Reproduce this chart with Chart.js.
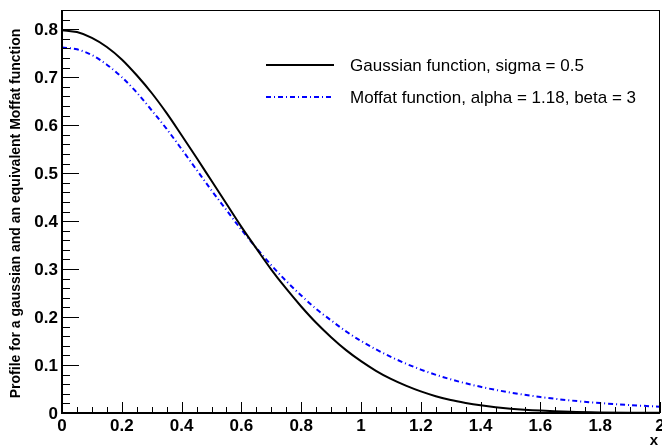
<!DOCTYPE html>
<html>
<head>
<meta charset="utf-8">
<script src="https://cdn.jsdelivr.net/npm/chart.js@4.4.1/dist/chart.umd.min.js"></script>
<style>
  html, body { margin: 0; padding: 0; background: #fff; }
  #wrap { width: 662px; height: 448px; }
</style>
</head>
<body>
<div id="wrap"><canvas id="profile"></canvas></div>
<script>
// values
const gaussX = [0, 0.05, 0.1, 0.15, 0.2, 0.25, 0.3, 0.35, 0.4, 0.45, 0.5, 0.55, 0.6, 0.65, 0.7, 0.75, 0.8, 0.85, 0.9, 0.95,
    1.0, 1.05, 1.1, 1.15, 1.2, 1.25, 1.3, 1.35, 1.4, 1.45, 1.5, 1.6, 1.7, 1.8, 1.9, 2.0];
const gaussY = [0.798, 0.794, 0.782, 0.763, 0.737, 0.704, 0.667, 0.625, 0.579, 0.532, 0.484, 0.436, 0.388, 0.343, 0.299, 0.259, 0.222, 0.188, 0.158, 0.131,
    0.108, 0.088, 0.071, 0.057, 0.045, 0.035, 0.027, 0.021, 0.016, 0.012, 0.009, 0.005, 0.0025, 0.0012, 0.0006, 0.0003];

const moffatX = [0, 0.05, 0.1, 0.15, 0.2, 0.25, 0.3, 0.35, 0.4, 0.45, 0.5, 0.55, 0.6, 0.65, 0.7, 0.75, 0.8, 0.85, 0.9, 0.95,
    1.0, 1.1, 1.2, 1.3, 1.4, 1.5, 1.6, 1.7, 1.8, 1.9, 2.0];
const moffatY = [0.762, 0.758, 0.746, 0.726, 0.700, 0.668, 0.631, 0.592, 0.550, 0.507, 0.464, 0.423, 0.382, 0.344, 0.308, 0.275, 0.245, 0.217, 0.193, 0.170,
    0.150, 0.117, 0.0905, 0.0702, 0.0546, 0.0426, 0.0333, 0.0262, 0.0207, 0.0165, 0.0131];

const xTickLabels = ['0', '0.2', '0.4', '0.6', '0.8', '1', '1.2', '1.4', '1.6', '1.8', '2'];
const yTickLabels = ['0', '0.1', '0.2', '0.3', '0.4', '0.5', '0.6', '0.7', '0.8'];

const legendLabels = ['Gaussian function, sigma = 0.5', 'Moffat function, alpha = 1.18, beta = 3'];
const yTitle = 'Profile for a gaussian and an equivalent Moffat function';
const xTitle = 'x';

const FONT = '"Liberation Sans", Arial, Helvetica, sans-serif';
const MOFFAT_DASH = [5, 3, 1, 3];

// ROOT-like frame, inward ticks, labels and legend
const rootFrame = {
    id: 'rootFrame',
    afterDraw(chart) {
        const ctx = chart.ctx;
        const area = chart.chartArea;
        const xs = chart.scales.x;
        const ys = chart.scales.y;
        ctx.save();

        // frame
        ctx.strokeStyle = '#000';
        ctx.lineWidth = 1;
        ctx.strokeRect(area.left + 0.5, area.top + 0.5, area.right - area.left - 1, area.bottom - area.top);
        ctx.lineWidth = 2;
        ctx.beginPath();
        ctx.moveTo(area.left, area.top);
        ctx.lineTo(area.left, area.bottom);
        ctx.lineTo(area.right, area.bottom);
        ctx.stroke();

        // y ticks
        ctx.lineWidth = 1;
        for (let i = 0; i <= 42; i++) {
            const v = i * 0.02;
            if (v > ys.max + 1e-9) break;
            const py = Math.round(ys.getPixelForValue(v)) + 0.5;
            const len = i % 5 === 0 ? 17 : 8;
            ctx.beginPath();
            ctx.moveTo(area.left, py);
            ctx.lineTo(area.left + len, py);
            ctx.stroke();
        }
        // x ticks
        for (let i = 0; i <= 40; i++) {
            const v = i * 0.05;
            const px = Math.round(xs.getPixelForValue(v)) + 0.5;
            const len = i % 4 === 0 ? 11 : 6;
            ctx.beginPath();
            ctx.moveTo(px, area.bottom);
            ctx.lineTo(px, area.bottom - len);
            ctx.stroke();
        }

        // tick labels
        ctx.fillStyle = '#000';
        ctx.font = 'bold 17px ' + FONT;
        ctx.textAlign = 'right';
        ctx.textBaseline = 'middle';
        yTickLabels.forEach(t => {
            ctx.fillText(t, area.left - 4, ys.getPixelForValue(parseFloat(t)) + 1);
        });
        ctx.textAlign = 'center';
        ctx.textBaseline = 'top';
        xTickLabels.forEach(t => {
            ctx.fillText(t, xs.getPixelForValue(parseFloat(t)), area.bottom + 5);
        });

        // axis titles
        ctx.font = 'bold 15px ' + FONT;
        ctx.textAlign = 'right';
        ctx.textBaseline = 'top';
        ctx.fillText(xTitle, area.right - 2, 433);

        ctx.save();
        ctx.translate(16, (area.top + area.bottom) / 2 + 2);
        ctx.rotate(-Math.PI / 2);
        ctx.font = 'bold 14px ' + FONT;
        ctx.textAlign = 'center';
        ctx.textBaseline = 'middle';
        ctx.fillText(yTitle, 0, 0);
        ctx.restore();

        // legend
        const ds = chart.data.datasets;
        const rows = [65, 97];
        ctx.font = '17px ' + FONT;
        ctx.textAlign = 'left';
        ctx.textBaseline = 'middle';
        ds.forEach((d, i) => {
            ctx.strokeStyle = d.borderColor;
            ctx.lineWidth = 2;
            ctx.setLineDash(d.borderDash || []);
            ctx.beginPath();
            ctx.moveTo(266, rows[i]);
            ctx.lineTo(334, rows[i]);
            ctx.stroke();
            ctx.setLineDash([]);
            ctx.fillStyle = '#000';
            ctx.fillText(legendLabels[i], 350, rows[i] + 1);
        });

        ctx.restore();
    }
};

new Chart(document.getElementById('profile').getContext('2d'), {
    type: 'line',
    data: {
        datasets: [
            {
                label: legendLabels[0],
                data: gaussX.map((x, i) => ({ x: x, y: gaussY[i] })),
                borderColor: '#000000',
                borderWidth: 2,
                pointRadius: 0,
                cubicInterpolationMode: 'monotone',
                fill: false
            },
            {
                label: legendLabels[1],
                data: moffatX.map((x, i) => ({ x: x, y: moffatY[i] })),
                borderColor: '#0000ff',
                borderWidth: 2,
                borderDash: MOFFAT_DASH,
                pointRadius: 0,
                cubicInterpolationMode: 'monotone',
                fill: false
            }
        ]
    },
    options: {
        responsive: true,
        maintainAspectRatio: false,
        animation: false,
        layout: {
            padding: { left: 62, right: 2, top: 10, bottom: 35 }
        },
        plugins: {
            legend: { display: false },
            tooltip: { enabled: false }
        },
        scales: {
            x: { type: 'linear', min: 0, max: 2, display: false },
            y: { type: 'linear', min: 0, max: 0.84, display: false }
        }
    },
    plugins: [rootFrame]
});
</script>
</body>
</html>
